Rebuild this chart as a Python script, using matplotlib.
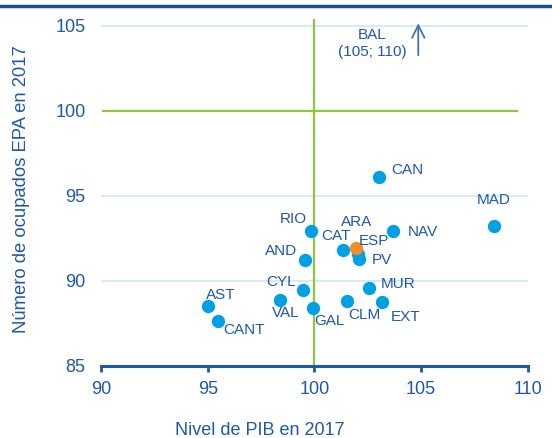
import matplotlib
matplotlib.use('Agg')
import matplotlib.pyplot as plt
from matplotlib.lines import Line2D

plt.rcParams['font.family'] = ['Liberation Sans', 'DejaVu Sans']

# datos: nivel de PIB y ocupados EPA (2017)
regiones = ['AST', 'CANT', 'VAL', 'CYL', 'GAL', 'AND', 'RIO', 'CAT', 'ARA',
            'PV', 'NAV', 'CLM', 'MUR', 'EXT', 'CAN', 'MAD']
pib = [95.0, 95.5, 98.4, 99.45, 99.95, 99.55, 99.85, 101.35, 102.05,
       102.1, 103.7, 101.55, 102.55, 103.15, 103.05, 108.4]
ocupados = [88.5, 87.65, 88.85, 89.45, 88.4, 91.2, 92.95, 91.8, 91.55,
            91.25, 92.9, 88.8, 89.55, 88.75, 96.1, 93.2]
esp_pib = 101.95
esp_ocu = 91.9

# desplazamiento de etiquetas (pixeles)
offs = {'AST': (13, 11), 'CANT': (26, -9), 'VAL': (6, -13), 'CYL': (-22, 8),
        'GAL': (16, -13), 'AND': (-24, 9), 'RIO': (-18, 12), 'CAT': (-7, 14),
        'ARA': (-2, 32), 'PV': (23, -1), 'NAV': (30, -1), 'CLM': (17, -14),
        'MUR': (29, 4), 'EXT': (24, -15), 'CAN': (28, 7), 'MAD': (0, 26)}

azul = '#1f58a8'
celeste = '#00a0e3'
verde = '#8dc63f'

fig = plt.figure(figsize=(5.52, 4.38), dpi=100)
ax = fig.add_axes([0.183, 0.165, 0.773, 0.792])

for v in [85, 90, 95, 105]:
    ax.plot([90, 110], [v, v], color='#cde9f6', lw=1.2, zorder=1)
ax.plot([90.1, 109.5], [100, 100], color=verde, lw=1.6, zorder=2)
ax.plot([100, 100], [85, 105.4], color=verde, lw=1.6, zorder=2)

ax.scatter(pib, ocupados, s=92, color=celeste, zorder=3, linewidths=0)
ax.scatter([esp_pib], [esp_ocu], s=92, color='#f28c28', zorder=4, linewidths=0)

for r, x, y in zip(regiones, pib, ocupados):
    ax.annotate(r, (x, y), xytext=offs[r], textcoords='offset pixels',
                ha='center', va='center', fontsize=11, color=azul, zorder=5)
ax.annotate('ESP', (esp_pib, esp_ocu), xytext=(18, 7), textcoords='offset pixels',
            ha='center', va='center', fontsize=11, color=azul, zorder=5)

# Baleares fuera de escala
ax.text(102.7, 103.95, 'BAL\n(105; 110)', ha='center', va='center',
        fontsize=11, color=azul, linespacing=1.2)
ax.annotate('', xy=(104.87, 105.3), xytext=(104.87, 103.1),
            arrowprops=dict(arrowstyle='->,head_length=0.9,head_width=0.45',
                            color='#3f74b8', lw=1.3))

ax.set_xlim(90, 110)
ax.set_ylim(85, 105.4)
ax.set_xticks([90, 95, 100, 105, 110])
ax.set_yticks([85, 90, 95, 100, 105])
for s in ['top', 'right', 'left']:
    ax.spines[s].set_visible(False)
ax.spines['bottom'].set_color(azul)
ax.spines['bottom'].set_linewidth(2.2)
ax.tick_params(axis='x', colors=azul, direction='out', length=4, width=2,
               labelsize=13, pad=7)
ax.tick_params(axis='y', colors=azul, length=0, labelsize=13, pad=11)
for t in ax.get_xticklabels() + ax.get_yticklabels():
    t.set_color(azul)

ax.set_xlabel('Nivel de PIB en 2017', fontsize=13, color=azul, va='center')
ax.set_ylabel('Número de ocupados EPA en 2017', fontsize=13.3, color=azul, va='center')
ax.xaxis.set_label_coords(0.373, -0.188)
ax.yaxis.set_label_coords(-0.186, 0.51)

fig.add_artist(Line2D([0, 1], [0.986, 0.986], color='#1a4f9c', lw=2.5,
                      transform=fig.transFigure))

fig.savefig('out.png', dpi=100)
